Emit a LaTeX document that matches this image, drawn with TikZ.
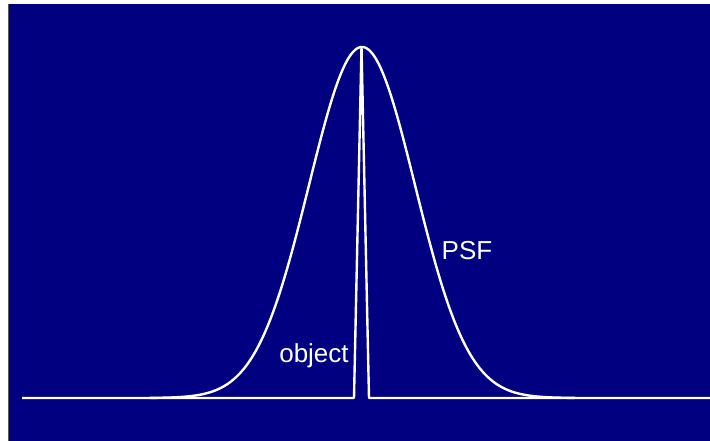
\documentclass[tikz,border=0pt]{standalone}
\usepackage{fontspec}
\setmainfont{Liberation Sans}
\definecolor{slidebg}{RGB}{0,0,128}

\begin{document}
\begin{tikzpicture}[x=1pt,y=-1pt,line width=2.4pt,
	curve/.style={draw=white,line join=round},
	lbl/.style={text=white,font=\fontsize{26}{31}\selectfont,anchor=base,inner sep=0}]
			\useasboundingbox (0,0) rectangle (710,441);
			\fill[white] (0,0) rectangle (710,441);
			\fill[slidebg] (9,4) rectangle (710,441);
			\draw[gray!70!black,line width=1.5pt] (8.5,4) -- (8.5,441);
			% baseline and object
			\coordinate (b0) at (22,398);
			\coordinate (oL) at (354,398);
			\coordinate (oT) at (361.5,47);
			\coordinate (oR) at (369,398);
			\coordinate (b1) at (710,398);
			\draw[curve] (b0) -- (oL) -- (oT) -- (oR) -- (b1);
			% point spread function
			\draw[curve] plot[domain=150:575,samples=200,smooth] (\x,{398-351*exp(-((\x-362)/53)^2/2)});
			\node[lbl] (objlbl) at (314,362) {object};
			\node[lbl] (psflbl) at (467,259) {PSF};
		\end{tikzpicture}
\end{document}
